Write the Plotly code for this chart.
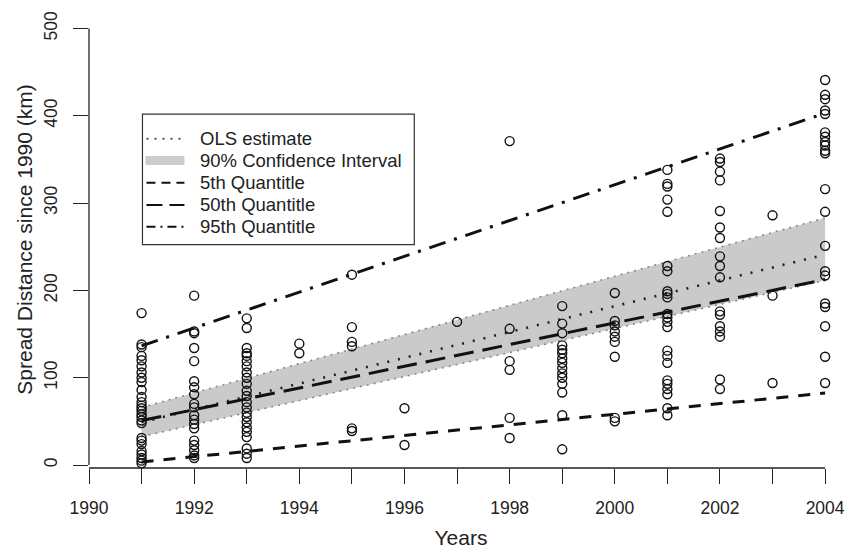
import plotly.graph_objects as go

# ---- observed spread distances (km) by year ----
y1991 = [174, 138, 135, 125, 120, 113, 106, 100, 95, 86, 78, 72, 68, 65, 62, 58, 55, 51, 48, 31, 28, 24, 16, 12, 8, 5, 2]
y1992 = [194, 153, 151, 134, 119, 96, 89, 81, 70, 66, 57, 52, 47, 42, 28, 23, 17, 11, 8]
y1993 = [168, 157, 134, 128, 125, 119, 113, 106, 100, 93, 85, 79, 72, 66, 60, 55, 49, 43, 38, 32, 19, 13, 8]
y1994 = [139, 128]
y1995 = [218, 158, 141, 136, 42, 39]
y1996 = [65, 23]
y1997 = [164]
y1998 = [371, 156, 119, 109, 54, 31]
y1999 = [182, 162, 151, 137, 132, 128, 122, 117, 111, 105, 100, 93, 83, 57, 18]
y2000 = [197, 165, 160, 153, 147, 141, 124, 54, 50]
y2001 = [338, 322, 319, 304, 290, 228, 222, 199, 196, 192, 173, 169, 164, 158, 131, 125, 117, 97, 93, 87, 81, 65, 57]
y2002 = [351, 347, 336, 326, 291, 272, 260, 239, 228, 215, 176, 172, 159, 153, 147, 98, 87]
y2003 = [286, 194, 94]
y2004 = [441, 424, 419, 406, 402, 381, 376, 370, 366, 360, 357, 316, 290, 251, 222, 217, 185, 181, 159, 124, 94]

obs = {1991: y1991, 1992: y1992, 1993: y1993, 1994: y1994, 1995: y1995, 1996: y1996,
       1997: y1997, 1998: y1998, 1999: y1999, 2000: y2000, 2001: y2001, 2002: y2002,
       2003: y2003, 2004: y2004}

# ---- fitted lines (values at first and last year) ----
fit_years = [1991, 2004]
ols_fit = [49, 241]
ci_low = [32.5, 211.5]
ci_high = [66, 283]
q05_fit = [3.5, 82.5]
q50_fit = [51, 212.5]
q95_fit = [136.5, 403]

x_ticks = list(range(1990, 2005))
x_ticktext = [str(v) if v % 2 == 0 else "" for v in x_ticks]
y_ticks = [0, 100, 200, 300, 400, 500]

legend_labels = ["OLS estimate", "90% Confidence Interval", "5th Quantitle",
                 "50th Quantitle", "95th Quantitle"]

px_, py_ = [], []
for yr, vals in obs.items():
    px_ += [yr] * len(vals)
    py_ += vals

FONT = "Liberation Sans, Arial, sans-serif"
OFF = 8  # default page margin around the figure div
W, H = 853 - OFF, 549 - OFF
ML, MR, MT, MB = 88.5 - OFF, 20, 10.8 - OFF, 76
PW, PH = W - ML - MR, H - MT - MB


def pxx(x):  # page pixel -> paper x
    return (x - OFF - ML) / PW


def pxy(y):  # page pixel -> paper y
    return (H - MB - (y - OFF)) / PH


fig = go.Figure()

# confidence band
fig.add_trace(go.Scatter(x=fit_years, y=ci_low, mode="lines", showlegend=False,
                         name="90% CI (lower)",
                         line=dict(color="#8a8a8a", width=1.6, dash="2px,5px")))
fig.add_trace(go.Scatter(x=fit_years, y=ci_high, mode="lines", showlegend=False, fill="tonexty",
                         name="90% CI (upper)", fillcolor="#cacaca",
                         line=dict(color="#8a8a8a", width=1.6, dash="2px,5px")))

styles = {
    "OLS estimate": dict(color="#222222", width=2.6, dash="2px,9px"),
    "5th Quantitle": dict(color="#111111", width=3, dash="12px,10px"),
    "50th Quantitle": dict(color="#111111", width=3, dash="20px,9px"),
    "95th Quantitle": dict(color="#111111", width=3, dash="17px,9px,3px,9px"),
}
fits = {"OLS estimate": ols_fit, "5th Quantitle": q05_fit,
        "50th Quantitle": q50_fit, "95th Quantitle": q95_fit}
for name, vals in fits.items():
    fig.add_trace(go.Scatter(x=fit_years, y=vals, mode="lines", name=name,
                             showlegend=False, line=styles[name]))

fig.add_trace(go.Scatter(x=px_, y=py_, mode="markers", showlegend=False, cliponaxis=False,
                         name="Observed",
                         marker=dict(symbol="circle-open", size=9, color="#111111",
                                     line=dict(width=1.4, color="#111111"))))

# ---- axis lines and legend box (drawn like the original R plot) ----
shapes = [
    dict(type="line", xref="x", yref="paper", x0=1990, x1=2004, y0=0, y1=0,
         line=dict(color="#222222", width=1.3)),
    dict(type="line", xref="paper", yref="y", x0=0, x1=0, y0=0, y1=500,
         line=dict(color="#222222", width=1.3)),
    dict(type="rect", xref="paper", yref="paper",
         x0=pxx(142), x1=pxx(414), y0=pxy(247), y1=pxy(115),
         line=dict(color="#333333", width=1.2), fillcolor="white", layer="above"),
]
legend_styles = [
    dict(color="#555555", width=2, dash="2px,6px"),
    dict(color="#cccccc", width=9),
    dict(color="#111111", width=2.2, dash="9px,6px"),
    dict(color="#111111", width=2.2, dash="16px,7px"),
    dict(color="#111111", width=2.2, dash="9px,5px,2px,5px"),
]
annotations = []
row_y = [140, 162, 184.5, 207, 229]
for lab, st, yy in zip(legend_labels, legend_styles, row_y):
    shapes.append(dict(type="line", xref="paper", yref="paper",
                       x0=pxx(146 if st["width"] < 5 else 145), x1=pxx(184), y0=pxy(yy), y1=pxy(yy),
                       line=st, layer="above"))
    annotations.append(dict(xref="paper", yref="paper", x=pxx(198), y=pxy(yy),
                            xanchor="left", yanchor="middle", text=lab, showarrow=False,
                            font=dict(size=18.5, color="#222222", family=FONT)))

fig.update_layout(
    width=W, height=H,
    margin=dict(l=ML, r=MR, t=MT, b=MB),
    plot_bgcolor="white", paper_bgcolor="white",
    font=dict(family=FONT, size=17.5, color="#222222"),
    showlegend=False,
    xaxis=dict(range=[1990, 2004.15], tickvals=x_ticks, ticktext=x_ticktext,
               showgrid=False, zeroline=False, showline=False,
               ticks="outside", ticklen=15, tickcolor="#222222", tickwidth=1.2,
               ticklabelstandoff=9,
               title=dict(text="Years", standoff=13)),
    yaxis=dict(range=[-3.4, 520], tickvals=y_ticks, tickangle=-90,
               showgrid=False, zeroline=False, showline=False,
               ticks="outside", ticklen=15, tickcolor="#222222", tickwidth=1.2,
               ticklabelstandoff=9,
               title=dict(text="Spread Distance since 1990 (km)", standoff=2)),
    shapes=shapes,
    annotations=annotations,
)

fig.write_html("out.html")
